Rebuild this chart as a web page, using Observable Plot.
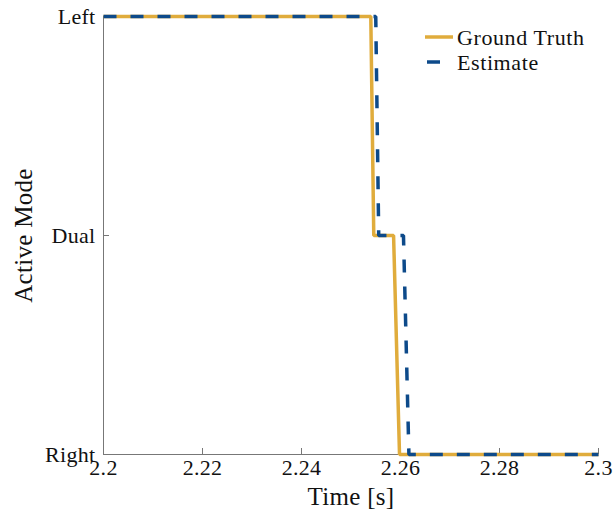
<!DOCTYPE html>
<html>
<head>
<meta charset="utf-8">
<script src="https://cdn.jsdelivr.net/npm/d3@7"></script>
<script src="https://cdn.jsdelivr.net/npm/@observablehq/plot@0.6"></script>
<style>
  html, body { margin: 0; padding: 0; background: white; }
  #wrap { position: relative; width: 613px; height: 518px; }
  #legend { position: absolute; left: 0; top: 0; pointer-events: none; }
</style>
</head>
<body>
<div id="wrap"></div>
<script>
const xTicks = [2.2, 2.22, 2.24, 2.26, 2.28, 2.3];
const modes = ["Left", "Dual", "Right"];
const gtTime = [2.2, 2.2540, 2.2546, 2.2586, 2.2598, 2.3];
const gtMode = ["Left", "Left", "Dual", "Dual", "Right", "Right"];
const estTime = [2.2, 2.2550, 2.2556, 2.2606, 2.2617, 2.3];
const estMode = ["Left", "Left", "Dual", "Dual", "Right", "Right"];
const seriesNames = ["Ground Truth", "Estimate"];
const colors = ["#E0AC3C", "#0D4A8A"];

const gt = gtTime.map((t, i) => ({t, m: gtMode[i]}));
const est = estTime.map((t, i) => ({t, m: estMode[i]}));

const W = 613, H = 518, ML = 103, MR = 15, MT = 16, MB = 64;
const frameW = W - ML - MR, frameH = H - MT - MB;
const axisColor = "#777";
const font = "Liberation Serif, DejaVu Serif, serif";

const chart = Plot.plot({
  width: W, height: H,
  marginLeft: ML, marginRight: MR, marginTop: MT, marginBottom: MB,
  x: {domain: [2.2, 2.3]},
  y: {type: "point", domain: modes, padding: 0},
  style: {fontFamily: font, fontSize: "22px", color: "#111", background: "white", overflow: "visible", letterSpacing: "0.3px"},
  marks: [
    Plot.ruleX([2.2], {stroke: axisColor, strokeWidth: 1}),
    Plot.ruleY(["Right"], {stroke: axisColor, strokeWidth: 1}),
    Plot.tickX(xTicks, {x: d => d, insetTop: frameH - 6, stroke: axisColor}),
    Plot.tickY(modes, {y: d => d, insetRight: frameW - 6, stroke: axisColor}),
    Plot.axisX(xTicks, {tickSize: 0, tickPadding: 5, tickFormat: d => String(d), label: null, fontFamily: font}),
    Plot.axisY(modes, {tickSize: 0, tickPadding: 8, label: null, fontFamily: font}),
    Plot.text(["Time [s]"], {frameAnchor: "bottom", textAnchor: "middle", dy: 50, fontSize: 25, fontFamily: font, text: d => d}),
    Plot.text(["Active Mode"], {frameAnchor: "left", textAnchor: "middle", dx: -80, rotate: -90, fontSize: 25, fontFamily: font, text: d => d}),
    Plot.line(gt, {x: "t", y: "m", stroke: colors[0], strokeWidth: 3.5, strokeLinejoin: "miter", strokeLinecap: "butt", curve: "linear"}),
    Plot.line(est, {x: "t", y: "m", stroke: colors[1], strokeWidth: 3.5, strokeDasharray: "13,14", strokeLinejoin: "miter", strokeLinecap: "butt", curve: "linear"})
  ]
});
document.getElementById("wrap").appendChild(chart);

// Legend (inside plot area, top-right)
const ns = "http://www.w3.org/2000/svg";
const leg = document.createElementNS(ns, "svg");
leg.setAttribute("id", "legend");
leg.setAttribute("width", W);
leg.setAttribute("height", H);
seriesNames.forEach((name, i) => {
  const y = 37 + i * 25;
  const ln = document.createElementNS(ns, "line");
  ln.setAttribute("x1", 425); ln.setAttribute("x2", 453);
  ln.setAttribute("y1", y); ln.setAttribute("y2", y);
  ln.setAttribute("stroke", colors[i]);
  ln.setAttribute("stroke-width", 3.5);
  if (i === 1) { ln.setAttribute("stroke-dasharray", "13,14"); ln.setAttribute("stroke-dashoffset", "-2"); }
  leg.appendChild(ln);
  const tx = document.createElementNS(ns, "text");
  tx.setAttribute("x", 457); tx.setAttribute("y", y);
  tx.setAttribute("dy", "0.35em");
  tx.setAttribute("font-family", font);
  tx.setAttribute("font-size", 22);
  tx.setAttribute("letter-spacing", "0.6px");
  tx.setAttribute("fill", "#111");
  tx.textContent = name;
  leg.appendChild(tx);
});
document.getElementById("wrap").appendChild(leg);
</script>
</body>
</html>
